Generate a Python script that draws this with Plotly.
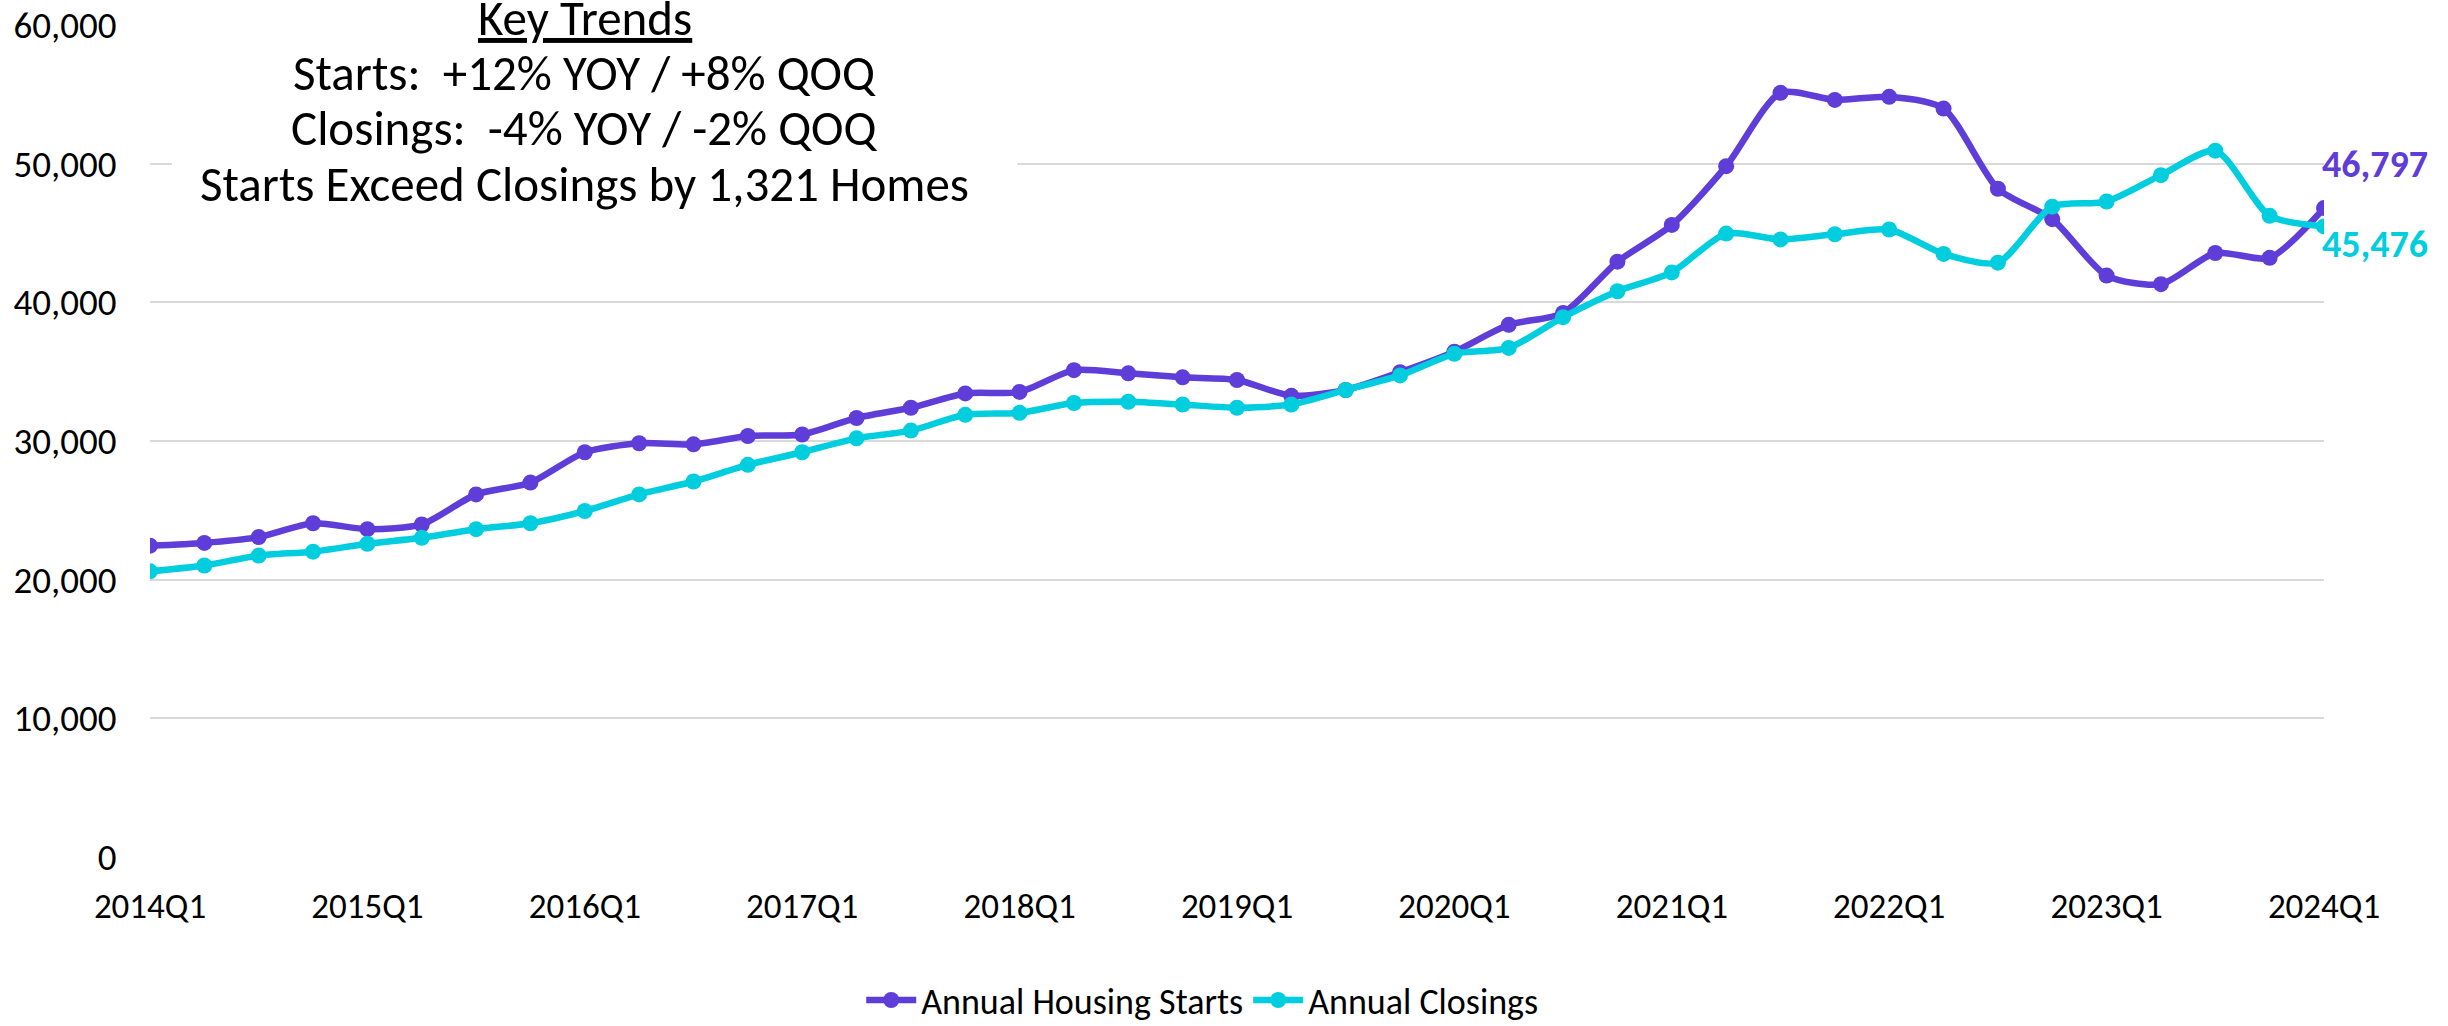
import plotly.graph_objects as go

quarters = [f"{y}Q{q}" for y in range(2014, 2024) for q in range(1, 5)] + ["2024Q1"]

starts = [22450, 22650, 23070, 24070, 23640, 23980, 26150, 27000,
          29190, 29840, 29760, 30360, 30470, 31660, 32400, 33430,
          33540, 35110, 34880, 34590, 34400, 33260, 33680, 34960,
          36440, 38380, 39230, 42930, 45580, 49820, 55110, 54600,
          54820, 53970, 48190, 46000, 41930, 41310, 43560, 43210,
          46797]

closings = [20600, 21020, 21740, 22020, 22590, 23020, 23640, 24070,
            24950, 26150, 27080, 28280, 29190, 30190, 30750, 31890,
            32030, 32740, 32830, 32630, 32400, 32630, 33680, 34730,
            36290, 36710, 38930, 40800, 42160, 44960, 44540, 44910,
            45250, 43490, 42860, 46900, 47270, 49170, 50940, 46240,
            45476]

tick_labels = [f"{y}Q1" for y in range(2014, 2025)]
y_ticks = [0, 10000, 20000, 30000, 40000, 50000, 60000]

series_names = ["Annual Housing Starts", "Annual Closings"]
colors = ["#5F3DD8", "#00CEDF"]

key_trends = ["<u>Key Trends</u>",
              "Starts:  +12% YOY / +8% QOQ",
              "Closings:  -4% YOY / -2% QOQ",
              "Starts Exceed Closings by 1,321 Homes"]

FONT = "Carlito, Calibri, Lato, sans-serif"

fig = go.Figure()
for name, vals, col in zip(series_names, [starts, closings], colors):
    fig.add_trace(go.Scatter(
        x=quarters, y=vals, name=name, mode="lines+markers",
        line=dict(color=col, width=6.5, shape="spline", smoothing=0.7),
        marker=dict(color=col, size=16),
    ))

fig.add_annotation(x=quarters[-1], y=starts[-1], text=f"<b>{starts[-1]:,}</b>",
                   showarrow=False, xanchor="left", yanchor="middle",
                   xshift=-4, yshift=44, font=dict(color=colors[0], size=38, family=FONT))
fig.add_annotation(x=quarters[-1], y=closings[-1], text=f"<b>{closings[-1]:,}</b>",
                   showarrow=False, xanchor="left", yanchor="middle",
                   xshift=-4, yshift=-18, font=dict(color=colors[1], size=38, family=FONT))

# white box behind the key-trends text
fig.add_shape(type="rect", xref="paper", yref="paper", x0=0.0101, x1=0.399,
              y0=0.772, y1=1.05, fillcolor="white", line=dict(width=0), layer="above")

line_y = [1.009, 0.9423, 0.876, 0.809]
for txt, yy in zip(key_trends, line_y):
    fig.add_annotation(xref="paper", yref="paper", x=0.2, y=yy, text=txt,
                       showarrow=False, xanchor="center", yanchor="middle",
                       font=dict(size=49, color="black", family=FONT))

fig.update_layout(
    width=2448, height=1026,
    paper_bgcolor="white", plot_bgcolor="white",
    margin=dict(l=150, r=124, t=25, b=169, autoexpand=False),
    font=dict(family=FONT, size=35, color="black"),
    showlegend=True,
    legend=dict(orientation="h", x=0.484, xanchor="center", y=-0.172, yanchor="middle",
                font=dict(size=36, family=FONT), itemwidth=50, traceorder="normal"),
    xaxis=dict(type="category", categoryorder="array", categoryarray=quarters,
               range=[0, 40], tickmode="array", tickvals=tick_labels, ticktext=tick_labels,
               showgrid=False, showline=False, zeroline=False, automargin=False,
               ticks="outside", ticklen=18, tickcolor="rgba(0,0,0,0)",
               tickfont=dict(size=35, family=FONT)),
    yaxis=dict(range=[0, 60000], tickmode="array", tickvals=y_ticks,
               tickformat=",", showgrid=True,
               gridcolor="#D9D9D9", gridwidth=2, zeroline=False, showline=False,
               automargin=False,
               ticks="outside", ticklen=25, tickcolor="rgba(0,0,0,0)",
               tickfont=dict(size=37, family=FONT)),
)

fig.write_html("out.html", config={"displayModeBar": False},
               post_script="document.body.style.margin='0';document.body.style.overflow='hidden';")
